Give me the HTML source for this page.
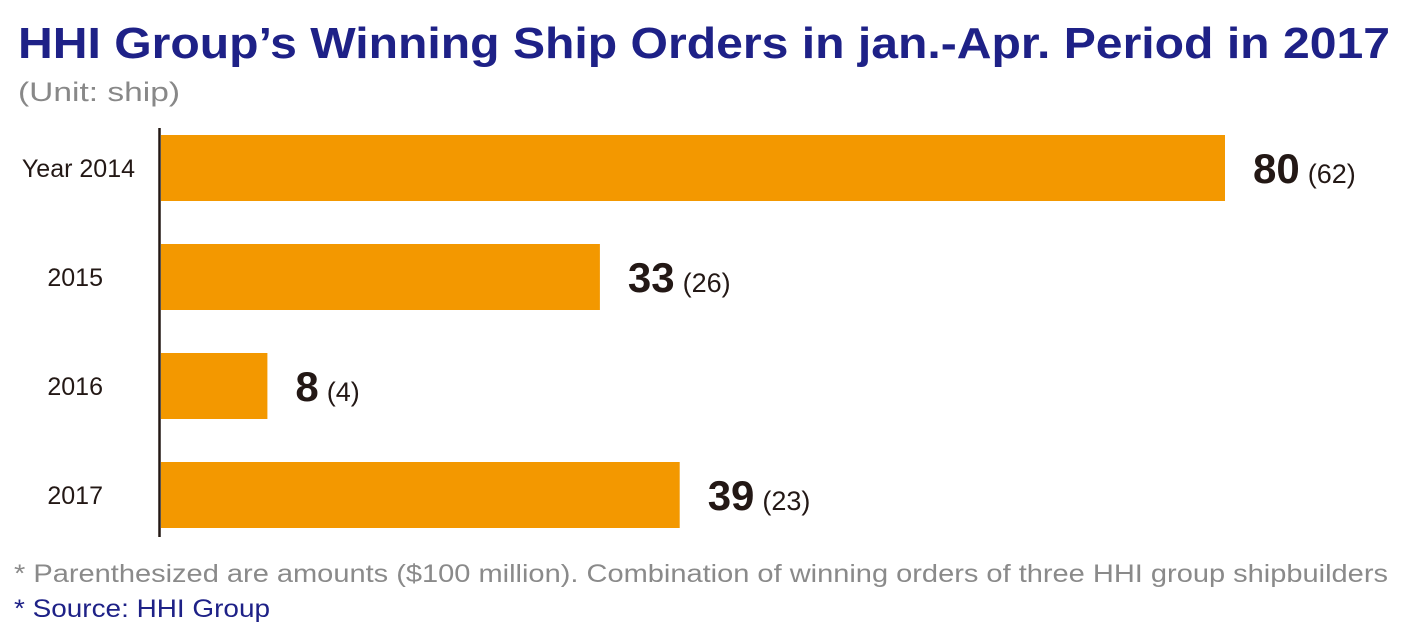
<!DOCTYPE html>
<html><head><meta charset="utf-8"><style>
html,body{margin:0;padding:0;background:#fff;}
svg{display:block;font-family:"Liberation Sans",sans-serif;}
</style></head><body>
<svg width="1406" height="631" viewBox="0 0 1406 631">
<text x="18" y="58" font-size="44" font-weight="bold" fill="#1e2187" textLength="1372" lengthAdjust="spacingAndGlyphs">HHI Group’s Winning Ship Orders in jan.-Apr. Period in 2017</text>
<text x="18" y="101" font-size="27" fill="#888" textLength="162" lengthAdjust="spacingAndGlyphs">(Unit: ship)</text>
<g id="bars"></g>
<line x1="159.5" y1="128" x2="159.5" y2="537" stroke="#231815" stroke-width="2.5"/>
<text x="14" y="582" font-size="25" fill="#8a8a8a" textLength="1374" lengthAdjust="spacingAndGlyphs">* Parenthesized are amounts ($100 million). Combination of winning orders of three HHI group shipbuilders</text>
<text x="14" y="617" font-size="25" fill="#1e2187" textLength="256" lengthAdjust="spacingAndGlyphs">* Source: HHI Group</text>
</svg>
<script>
const categories = ["Year 2014", "2015", "2016", "2017"];
const ships = [80, 33, 8, 39];
const amounts = [62, 26, 4, 23];

const x0 = 161, unit = 13.3, top0 = 135, step = 109, barH = 66;
const xs = v => x0 + v * unit;
const ys = i => top0 + i * step;
const g = document.getElementById('bars');
const NS = 'http://www.w3.org/2000/svg';
categories.forEach((c, i) => {
  const r = document.createElementNS(NS, 'rect');
  
  
  r.setAttribute('x', x0); r.setAttribute('y', ys(i));
  r.setAttribute('width', xs(ships[i]) - x0); r.setAttribute('height', barH);
  r.setAttribute('fill', '#f39800');
  g.appendChild(r);
  const cl = document.createElementNS(NS, 'text');
  
  
  cl.setAttribute('x', i === 0 ? 135 : 103); cl.setAttribute('y', ys(i) + barH/2 + 9);
  cl.setAttribute('text-anchor', 'end'); cl.setAttribute('font-size', '25');
  cl.setAttribute('fill', '#231815');
  cl.textContent = c;
  g.appendChild(cl);
  const vl = document.createElementNS(NS, 'text');
  
  
  vl.setAttribute('x', xs(ships[i]) + 28); vl.setAttribute('y', ys(i) + barH/2 + 15);
  vl.setAttribute('fill', '#231815');
  const t1 = document.createElementNS(NS, 'tspan');
  t1.setAttribute('font-size', '42'); t1.setAttribute('font-weight', 'bold');
  t1.textContent = ships[i];
  const t2 = document.createElementNS(NS, 'tspan');
  t2.setAttribute('font-size', '27'); t2.setAttribute('dx', '8');
  t2.textContent = '(' + amounts[i] + ')';
  vl.appendChild(t1); vl.appendChild(t2);
  g.appendChild(vl);
});
</script>
</body></html>
